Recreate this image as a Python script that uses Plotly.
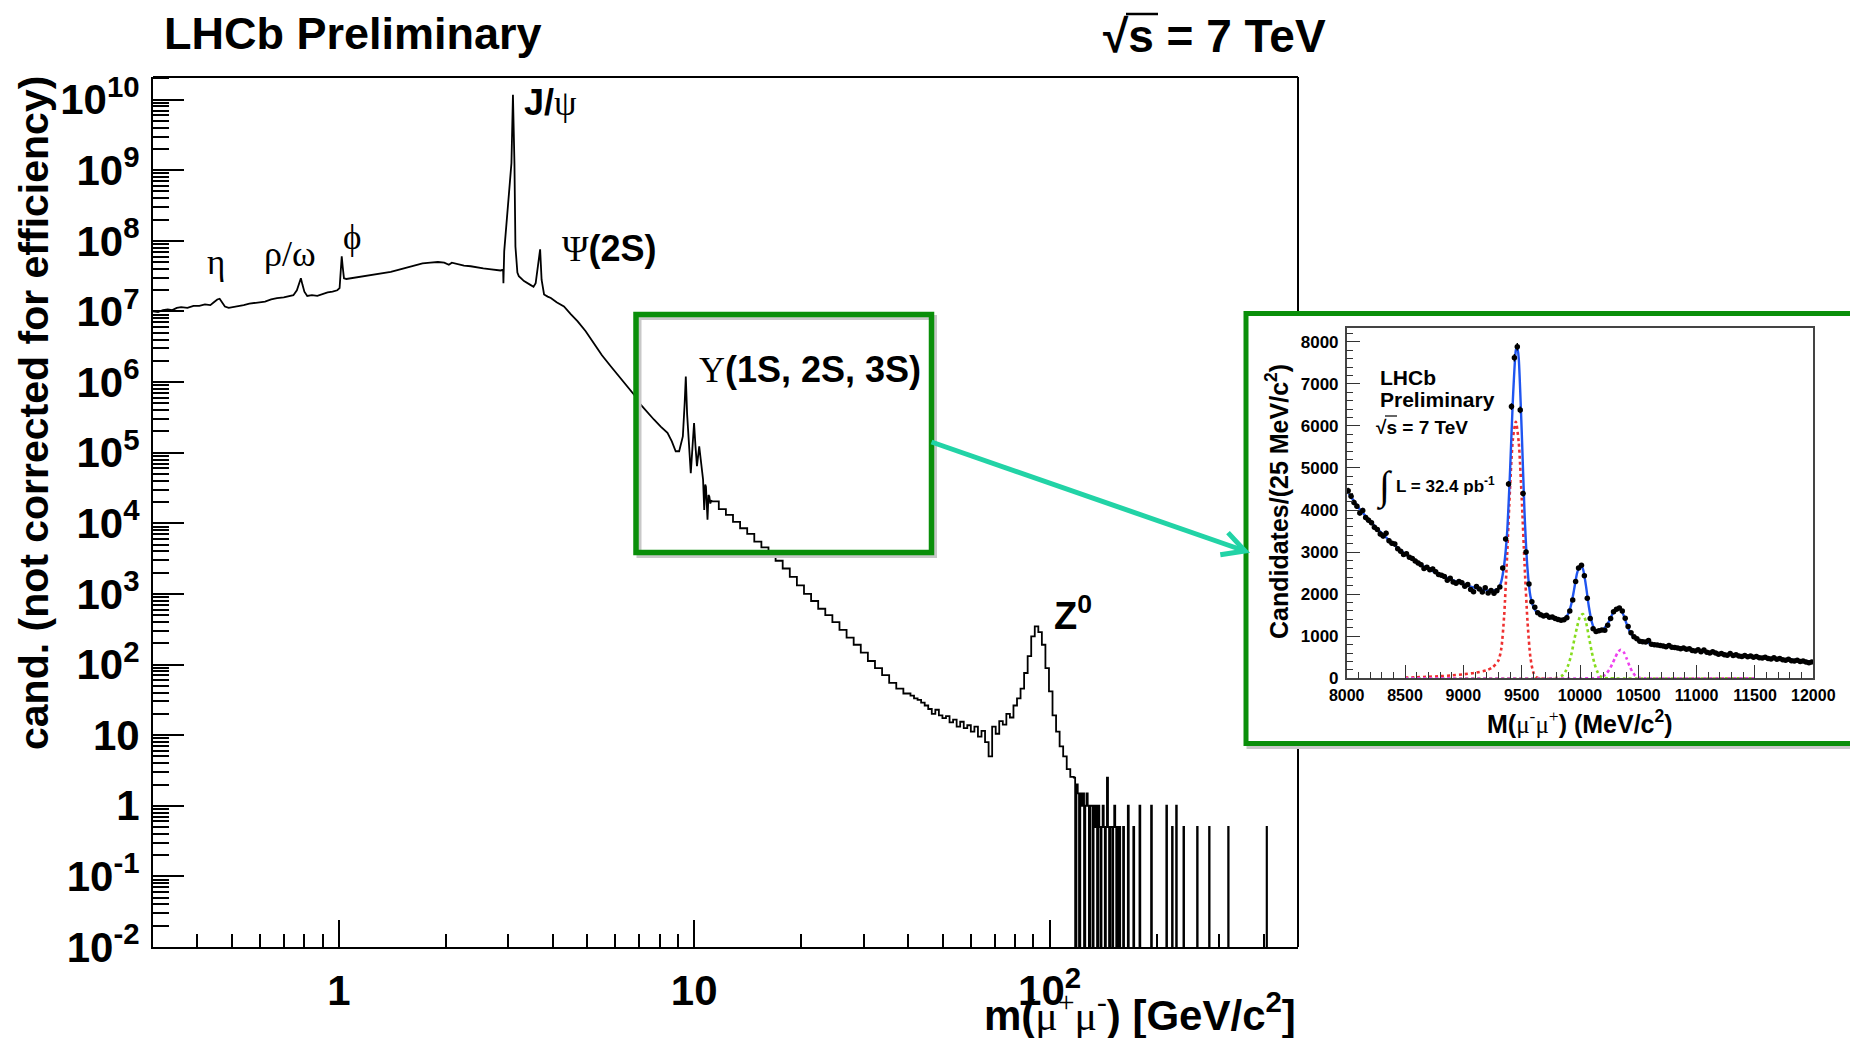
import numpy as np
import plotly.graph_objects as go

W, H = 1850, 1038
SANS = "Liberation Sans, Arial, Helvetica, sans-serif"
SERIF = "Liberation Serif, Times New Roman, serif"
GREEN = "#0a8f0a"
TEAL = "#22d3a6"


def px(x):
    return x / W


def py(y):
    return 1 - y / H


# ---------------- full dimuon spectrum ----------------
# 0.3 - 11.2 GeV, finely binned: mass [GeV] and log10(candidates)
low_mass = [0.300, 0.310, 0.320, 0.330, 0.340, 0.350, 0.360, 0.375, 0.390, 0.405,
            0.420, 0.435, 0.445, 0.455, 0.462, 0.470, 0.478, 0.490, 0.505, 0.520,
            0.540, 0.560, 0.580, 0.600, 0.620, 0.645, 0.670, 0.700, 0.725, 0.745,
            0.762, 0.775, 0.782, 0.790, 0.800, 0.815, 0.840, 0.870, 0.900, 0.930,
            0.960, 0.990, 1.005, 1.012, 1.019, 1.026, 1.034, 1.050, 1.080, 1.120,
            1.170, 1.220, 1.270, 1.330, 1.400, 1.470, 1.550, 1.630, 1.720, 1.810,
            1.900, 1.980, 2.040, 2.080, 2.150, 2.250, 2.350, 2.450, 2.550, 2.650,
            2.750, 2.850, 2.900, 2.905, 2.920, 2.970, 3.010, 3.060, 3.090, 3.120,
            3.140, 3.180, 3.210, 3.320, 3.450, 3.530, 3.580, 3.640, 3.685, 3.720,
            3.780, 3.870, 3.950, 4.100, 4.300, 4.500, 4.700, 4.950, 5.230, 5.500,
            5.830, 6.150, 6.490, 6.800, 7.070, 7.400, 7.700, 8.050, 8.410, 8.650,
            8.870, 9.070, 9.200, 9.290, 9.400, 9.470, 9.550, 9.680, 9.780, 9.880,
            9.990, 10.080, 10.180, 10.330, 10.450, 10.590, 10.670, 10.740, 10.790, 10.850,
            10.900, 10.970, 11.030, 11.100, 11.200]
low_log10 = [7.00, 6.99, 7.02, 7.03, 7.02, 7.05, 7.06, 7.05, 7.08, 7.08,
             7.10, 7.09, 7.13, 7.17, 7.18, 7.12, 7.07, 7.05, 7.06, 7.08,
             7.09, 7.11, 7.12, 7.14, 7.14, 7.17, 7.19, 7.20, 7.22, 7.23,
             7.30, 7.42, 7.47, 7.38, 7.28, 7.22, 7.23, 7.22, 7.25, 7.27,
             7.28, 7.30, 7.33, 7.60, 7.78, 7.62, 7.47, 7.46, 7.47, 7.49,
             7.50, 7.51, 7.53, 7.55, 7.56, 7.59, 7.62, 7.65, 7.68, 7.69,
             7.70, 7.69, 7.66, 7.69, 7.67, 7.65, 7.64, 7.62, 7.61, 7.60,
             7.59, 7.58, 7.59, 7.40, 7.85, 8.30, 8.54, 9.10, 10.07, 9.10,
             7.92, 7.55, 7.50, 7.43, 7.38, 7.35, 7.40, 7.64, 7.88, 7.45,
             7.24, 7.21, 7.19, 7.13, 7.07, 6.96, 6.86, 6.72, 6.55, 6.38,
             6.22, 6.08, 5.94, 5.81, 5.68, 5.56, 5.47, 5.37, 5.28, 5.16,
             5.02, 5.02, 5.15, 5.23, 5.70, 6.08, 5.55, 5.00, 4.71, 5.05,
             5.42, 5.10, 4.81, 5.09, 4.85, 4.62, 4.19, 4.55, 4.52, 4.20,
             4.05, 4.40, 4.38, 4.28, 4.33]

# 11.2 - 40.6 GeV: 28 logarithmic bins
mid_edges = np.geomspace(11.2, 40.6, 29)
mid_log10 = [4.31, 4.20, 4.12, 4.02, 3.93, 3.85, 3.74, 3.66, 3.56, 3.47,
             3.36, 3.24, 3.12, 3.00, 2.90, 2.79, 2.70, 2.60, 2.49, 2.38,
             2.28, 2.17, 2.05, 1.95, 1.85, 1.74, 1.66, 1.59]

# 40.6 - 117 GeV (Z region): 46 logarithmic bins
z_edges = np.geomspace(40.6, 117.0, 47)
z_log10 = [1.56, 1.52, 1.50, 1.46, 1.42, 1.37, 1.30, 1.36, 1.28, 1.24,
           1.27, 1.18, 1.22, 1.12, 1.19, 1.10, 1.14, 1.05, 1.12, 0.98,
           1.06, 0.90, 0.70, 1.12, 1.02, 1.20, 1.15, 1.30, 1.25, 1.42,
           1.52, 1.66, 1.88, 2.12, 2.40, 2.54, 2.46, 2.28, 1.95, 1.62,
           1.28, 1.05, 0.84, 0.70, 0.52, 0.41]

# above 117 GeV: 1 GeV bins, only non-empty bins are listed (low edge, content)
hi_edges = np.arange(117.0, 501.0, 1.0)
hi_mass = [117, 119, 120, 122, 123, 124, 126, 127, 128, 130,
           131, 133, 134, 135, 137, 138, 140, 141, 142, 144,
           145, 146, 148, 149, 151, 152, 153, 155, 157, 161,
           166, 172, 179, 193, 213, 221, 227, 238, 260, 281,
           318, 408]
hi_count = [2.5, 2, 1.5, 1.5, 1, 1.5, 1, 1.5, 1, 1,
            1, 1, 0.5, 1, 1, 0.5, 0.5, 1, 0.5, 0.5,
            2.5, 0.5, 0.5, 0.5, 0.5, 1, 0.5, 0.5, 0.5, 0.5,
            1, 0.5, 1, 1, 1, 0.5, 1, 0.5, 0.5, 0.5,
            0.5, 0.5]

# ---------------- Upsilon region (inset) ----------------
ups_centers = np.arange(8012.5, 12000.0, 25.0)
ups_count = [4460, 4330, 4180, 4090, 3930, 3990, 3820, 3760, 3700, 3590,
             3540, 3430, 3380, 3450, 3270, 3210, 3190, 3080, 3020, 2940,
             2960, 2880, 2850, 2790, 2740, 2700, 2610, 2640, 2580, 2600,
             2530, 2470, 2450, 2420, 2330, 2380, 2290, 2260, 2300, 2270,
             2190, 2230, 2110, 2060, 2180, 2120, 2050, 2150, 2030, 2090,
             2020, 2080, 2170, 2620, 3310, 4620, 6460, 7620, 7880, 6380,
             4390, 3000, 2240, 1820, 1690, 1560, 1510, 1480, 1500, 1450,
             1460, 1420, 1400, 1380, 1390, 1440, 1600, 1860, 2300, 2620,
             2690, 2440, 1900, 1420, 1180, 1110, 1130, 1150, 1140, 1260,
             1420, 1580, 1640, 1670, 1600, 1430, 1230, 1080, 990, 940,
             880, 870, 860, 900, 810, 800, 790, 780, 770, 750,
             780, 740, 730, 720, 700, 720, 690, 700, 660, 650,
             680, 630, 670, 620, 600, 630, 600, 570, 590, 560,
             550, 590, 540, 560, 530, 520, 540, 510, 530, 500,
             520, 490, 480, 500, 470, 460, 490, 450, 470, 440,
             430, 450, 420, 410, 430, 400, 410, 390, 370, 390]

fit_mass = [8000, 8100, 8200, 8300, 8400, 8500, 8600, 8700, 8800, 8900,
            9000, 9100, 9200, 9250, 9300, 9325, 9350, 9375, 9400, 9425,
            9450, 9462, 9475, 9500, 9525, 9550, 9575, 9600, 9625, 9650,
            9700, 9750, 9800, 9850, 9875, 9900, 9925, 9950, 9975, 10000,
            10025, 10050, 10075, 10100, 10125, 10150, 10175, 10200, 10250, 10275,
            10300, 10325, 10350, 10375, 10400, 10425, 10450, 10500, 10600, 10700,
            10800, 10900, 11000, 11200, 11400, 11600, 11800, 12000]
fit_val = [4470, 4060, 3740, 3450, 3190, 2960, 2760, 2600, 2460, 2340,
           2240, 2150, 2090, 2080, 2140, 2300, 2700, 3450, 4900, 6650,
           7800, 7900, 7600, 5900, 3900, 2600, 1950, 1700, 1580, 1520,
           1480, 1440, 1410, 1400, 1440, 1540, 1760, 2120, 2500, 2680,
           2600, 2220, 1720, 1350, 1160, 1120, 1130, 1170, 1360, 1510,
           1620, 1670, 1630, 1490, 1290, 1120, 1010, 900, 830, 780,
           740, 700, 660, 590, 535, 485, 440, 395]

y1s_mass = [8500, 8600, 8700, 8800, 8900, 9000, 9100, 9200, 9250, 9300,
            9325, 9350, 9375, 9400, 9425, 9450, 9475, 9500, 9525, 9550,
            9575, 9600, 9625, 9650, 11500]
y1s_val = [15, 25, 35, 50, 70, 95, 130, 190, 260, 420,
           700, 1500, 2900, 4500, 5700, 6100, 5600, 4300, 2700, 1350,
           500, 140, 30, 0, 0]

y2s_mass = [8500, 9750, 9800, 9850, 9875, 9900, 9925, 9950, 9975, 10000,
            10025, 10050, 10075, 10100, 10125, 10150, 10175, 10200, 10250, 11500]
y2s_val = [0, 0, 15, 70, 160, 320, 560, 900, 1220, 1470,
           1530, 1350, 1000, 640, 340, 150, 50, 12, 0, 0]

y3s_mass = [8500, 10100, 10150, 10200, 10225, 10250, 10275, 10300, 10325, 10350,
            10375, 10400, 10425, 10450, 10475, 10500, 10550, 11500]
y3s_val = [0, 0, 10, 50, 110, 200, 330, 480, 620, 680,
           620, 470, 290, 150, 60, 20, 0, 0]

inset_xticks = [8000, 8500, 9000, 9500, 10000, 10500, 11000, 11500, 12000]
inset_yticks = [0, 1000, 2000, 3000, 4000, 5000, 6000, 7000, 8000]

# ---------------- build the figure ----------------
FLOOR = 1e-3  # empty bins are drawn below the axis floor

fig = go.Figure()

fig.add_trace(go.Scatter(
    x=low_mass, y=np.power(10.0, low_log10), mode="lines",
    line=dict(color="black", width=1.8), xaxis="x", yaxis="y",
    showlegend=False, hoverinfo="skip"))

hi_vals = np.zeros(len(hi_edges) - 1)
for m, c in zip(hi_mass, hi_count):
    hi_vals[int(m - 117)] = c
hi_vals = np.where(hi_vals > 0, hi_vals, FLOOR)

step_x = list(mid_edges[:-1]) + list(z_edges[:-1]) + list(hi_edges)
step_vals = list(np.power(10.0, mid_log10)) + list(np.power(10.0, z_log10)) + list(hi_vals)
step_y = step_vals + [step_vals[-1]]
fig.add_trace(go.Scatter(
    x=step_x, y=step_y, mode="lines", line_shape="hv",
    line=dict(color="black", width=1.8), xaxis="x", yaxis="y",
    showlegend=False, hoverinfo="skip"))

# inset traces
for mass, val, col in [(y1s_mass, y1s_val, "#ee3030"),
                       (y2s_mass, y2s_val, "#86dc1e"),
                       (y3s_mass, y3s_val, "#ee40ee")]:
    fig.add_trace(go.Scatter(
        x=mass, y=val, mode="lines", line_shape="spline",
        line=dict(color=col, width=2.6, dash="dot", smoothing=0.7),
        xaxis="x2", yaxis="y2", showlegend=False, hoverinfo="skip"))

fig.add_trace(go.Scatter(
    x=fit_mass, y=fit_val, mode="lines", line_shape="spline",
    line=dict(color="#1f55f0", width=2.4, smoothing=0.6),
    xaxis="x2", yaxis="y2", showlegend=False, hoverinfo="skip"))

fig.add_trace(go.Scatter(
    x=ups_centers, y=ups_count, mode="markers",
    marker=dict(color="black", size=5.5),
    error_y=dict(type="sqrt", color="black", thickness=1.4, width=0),
    xaxis="x2", yaxis="y2", showlegend=False, hoverinfo="skip"))

# ---------------- axes ----------------
x_minor = [0.4, 0.5, 0.6, 0.7, 0.8, 0.9] + [k for k in range(2, 10)] + \
          [10 * k for k in range(2, 10)] + [100 * k for k in range(2, 6)]
y_major = [10.0 ** e for e in range(-2, 11)]
y_minor = [k * 10.0 ** e for e in range(-2, 11) for k in range(2, 10)]


def ylab(e):
    if e == 0:
        return "1"
    if e == 1:
        return "10"
    return "10<sup>%d</sup>" % e


fig.update_layout(
    template="none",
    width=W, height=H,
    margin=dict(l=0, r=0, t=0, b=0, autoexpand=False),
    paper_bgcolor="white", plot_bgcolor="white",
    showlegend=False,
    xaxis=dict(
        type="log", range=[np.log10(0.3), np.log10(500)],
        domain=[px(153), px(1298)], anchor="y", automargin=False,
        showline=True, linecolor="black", linewidth=2, mirror=False,
        ticks="inside", ticklen=27, tickwidth=2, tickcolor="black",
        tickmode="array", tickvals=[1, 10, 100], ticktext=["1", "10", "10<sup>2</sup>"],
        tickfont=dict(family=SANS, size=42, color="black", weight="bold"),
        ticklabelstandoff=6,
        minor=dict(ticks="inside", ticklen=13, tickwidth=1.5, tickcolor="black",
                   tickmode="array", tickvals=x_minor),
        showgrid=False, zeroline=False),
    yaxis=dict(
        type="log", range=[-2, 10.32],
        domain=[py(947), py(77)], anchor="x", automargin=False,
        showline=True, linecolor="black", linewidth=2, mirror=False,
        ticks="inside", ticklen=31, tickwidth=2, tickcolor="black",
        tickmode="array", tickvals=y_major, ticktext=[ylab(e) for e in range(-2, 11)],
        tickfont=dict(family=SANS, size=42, color="black", weight="bold"),
        ticklabelstandoff=3,
        minor=dict(ticks="inside", ticklen=16, tickwidth=1.5, tickcolor="black",
                   tickmode="array", tickvals=y_minor),
        showgrid=False, zeroline=False),
    xaxis2=dict(
        range=[8000, 12000], domain=[px(1346.7), px(1813.3)], anchor="y2", automargin=False,
        showline=True, linecolor="#444444", linewidth=1.5, mirror=True,
        ticks="inside", ticklen=14, tickwidth=1.3, tickcolor="#333333",
        tickmode="array", tickvals=inset_xticks, ticktext=[str(v) for v in inset_xticks],
        tickfont=dict(family=SANS, size=16, color="black", weight="bold"),
        ticklabelstandoff=2,
        minor=dict(ticks="inside", ticklen=7, tickwidth=1, tickcolor="#333333", dtick=100),
        showgrid=False, zeroline=False),
    yaxis2=dict(
        range=[0, 8320], domain=[py(678.3), py(328.3)], anchor="x2", automargin=False,
        showline=True, linecolor="#444444", linewidth=1.5, mirror=True,
        ticks="inside", ticklen=14, tickwidth=1.3, tickcolor="#333333",
        tickmode="array", tickvals=inset_yticks, ticktext=[str(v) for v in inset_yticks],
        tickfont=dict(family=SANS, size=17, color="black", weight="bold"),
        ticklabelstandoff=3,
        minor=dict(ticks="inside", ticklen=7, tickwidth=1, tickcolor="#333333", dtick=200),
        showgrid=False, zeroline=False),
)

# ---------------- frame, boxes and arrow ----------------
shapes = []
# top and right edges of the main frame
shapes.append(dict(type="line", xref="paper", yref="paper", layer="below",
                   x0=px(153), x1=px(1298), y0=py(77), y1=py(77),
                   line=dict(color="black", width=2)))
shapes.append(dict(type="line", xref="paper", yref="paper", layer="below",
                   x0=px(1298), x1=px(1298), y0=py(77), y1=py(947),
                   line=dict(color="black", width=2)))
# inset panel: shadow, then white card with green border
shapes.append(dict(type="rect", xref="paper", yref="paper", layer="below",
                   x0=px(1249), x1=px(1880), y0=py(316.5), y1=py(746.5),
                   line=dict(color="#c8c8c8", width=5), fillcolor="rgba(0,0,0,0)"))
shapes.append(dict(type="rect", xref="paper", yref="paper", layer="below",
                   x0=px(1246), x1=px(1880), y0=py(313.5), y1=py(743.5),
                   line=dict(color=GREEN, width=5), fillcolor="white"))
# zoom box around the Upsilon peaks
shapes.append(dict(type="rect", xref="paper", yref="paper", layer="above",
                   x0=px(639), x1=px(934.5), y0=py(317.5), y1=py(555.5),
                   line=dict(color="#c8c8c8", width=5), fillcolor="rgba(0,0,0,0)"))
shapes.append(dict(type="rect", xref="paper", yref="paper", layer="above",
                   x0=px(636), x1=px(931.5), y0=py(314.5), y1=py(552.5),
                   line=dict(color=GREEN, width=5.5), fillcolor="rgba(0,0,0,0)"))

# arrow from the zoom box to the inset
ax0, ay0 = 931.5, 442.0
ax1, ay1 = 1245.0, 551.0
shapes.append(dict(type="line", xref="paper", yref="paper", layer="above",
                   x0=px(ax0), y0=py(ay0), x1=px(ax1), y1=py(ay1),
                   line=dict(color=TEAL, width=5)))
ang = np.arctan2(ay1 - ay0, ax1 - ax0)
arm = 25.0
pts = []
for s in (+1, -1):
    a = ang + np.pi + s * np.radians(28)
    pts.append((ax1 + arm * np.cos(a), ay1 + arm * np.sin(a)))
path = "M %f %f L %f %f L %f %f" % (px(pts[0][0]), py(pts[0][1]), px(ax1), py(ay1),
                                    px(pts[1][0]), py(pts[1][1]))
shapes.append(dict(type="path", xref="paper", yref="paper", layer="above", path=path,
                   line=dict(color=TEAL, width=5)))

# radical overlines for the two "√s" labels
shapes.append(dict(type="line", xref="paper", yref="paper", layer="above",
                   x0=px(1126), x1=px(1158), y0=py(14), y1=py(14),
                   line=dict(color="black", width=2.5)))
shapes.append(dict(type="line", xref="paper", yref="paper", layer="above",
                   x0=px(1385), x1=px(1397), y0=py(416), y1=py(416),
                   line=dict(color="black", width=1.2)))
fig.update_layout(shapes=shapes)


# ---------------- text ----------------
def ann(text, x, y, size, family=SANS, xanchor="left", yanchor="middle", angle=0):
    fig.add_annotation(text=text, x=px(x), y=py(y), xref="paper", yref="paper",
                       xanchor=xanchor, yanchor=yanchor, showarrow=False,
                       textangle=angle, font=dict(family=family, size=size, color="black"))


def sans_b(t):
    return "<span style='font-family:%s'><b>%s</b></span>" % (SANS, t)


ann("<b>LHCb Preliminary</b>", 162, 34, 45)
ann("<b>√s = 7 TeV</b>", 1101, 36, 46)
ann("<b>cand. (not corrected for efficiency)</b>", 34, 413, 41, xanchor="center", angle=-90)
ann(sans_b("m(") + "μ<sup>+</sup>μ<sup>-</sup>" + sans_b(") [GeV/c<sup>2</sup>]"),
    1298, 1012, 42, family=SERIF, xanchor="right")

ann("η", 216, 262, 35, family=SERIF, xanchor="center")
ann("ρ/ω", 290, 254, 36, family=SERIF, xanchor="center")
ann("ϕ", 352, 238, 35, family=SERIF, xanchor="center")
ann(sans_b("J/") + "ψ", 522, 102, 36, family=SERIF)
ann("Ψ" + sans_b("(2S)"), 560, 249, 36, family=SERIF)
ann("Υ" + sans_b("(1S, 2S, 3S)"), 697, 369, 36, family=SERIF)
ann("<b>Z<sup>0</sup></b>", 1052, 613, 38)

# inset labels
ann("<b>LHCb</b>", 1378, 377, 21)
ann("<b>Preliminary</b>", 1378, 400, 21)
ann("<b>√s = 7 TeV</b>", 1374, 427, 19)
ann("∫", 1384, 487, 40, family=SERIF, xanchor="center")
ann("<b>L = 32.4 pb<sup>-1</sup></b>", 1394, 485, 17)
ann(sans_b("M(") + "μ<sup>-</sup>μ<sup>+</sup>" + sans_b(") (MeV/c<sup>2</sup>)"),
    1580, 722, 25, family=SERIF, xanchor="center")
ann("<b>Candidates/(25 MeV/c<sup>2</sup>)</b>", 1277, 502, 25, xanchor="center", angle=-90)

fig.write_html("out.html", config={"displayModeBar": False})
